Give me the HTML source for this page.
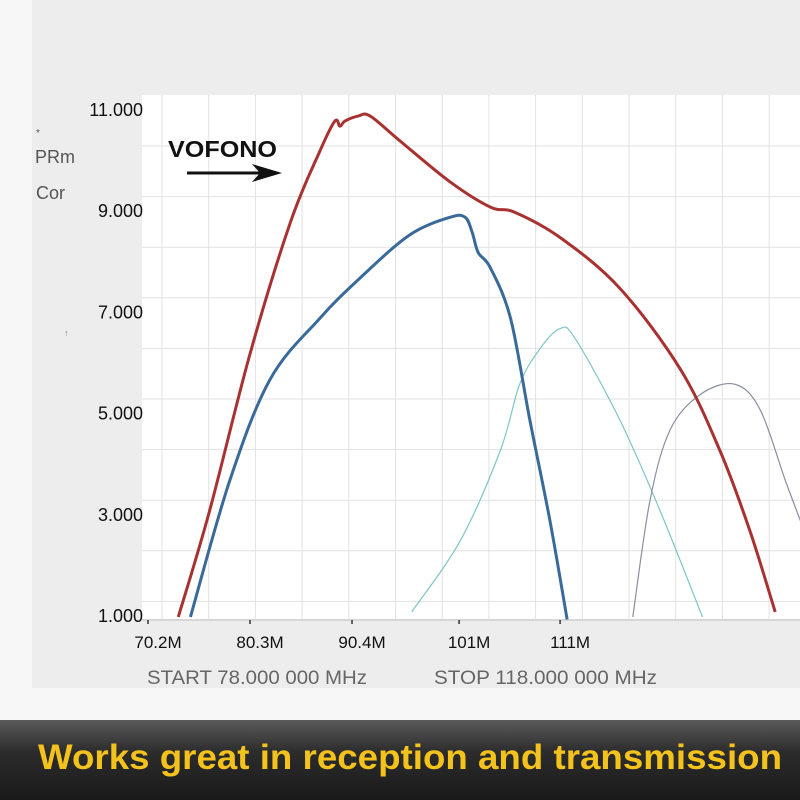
<!DOCTYPE html>
<html><head><meta charset="utf-8"><style>
html,body{margin:0;padding:0;width:800px;height:800px;overflow:hidden;background:#f4f4f4;font-family:"Liberation Sans",sans-serif}
</style></head><body>
<svg width="800" height="800" viewBox="0 0 800 800" xmlns="http://www.w3.org/2000/svg">
<defs>
<linearGradient id="bn" x1="0" y1="0" x2="0" y2="1">
<stop offset="0" stop-color="#5a5a5a"/><stop offset="0.4" stop-color="#2c2c2c"/><stop offset="1" stop-color="#1a1a1a"/>
</linearGradient>
</defs>
<rect x="0" y="0" width="800" height="720" fill="#f7f7f7"/>
<rect x="32" y="0" width="768" height="688" fill="#ededed"/>
<rect x="142" y="95" width="658" height="525" fill="#ffffff"/>
<g id="grid"></g>
<line x1="142" y1="620" x2="800" y2="620" stroke="#d6d6d6" stroke-width="2"/>
<g id="ticks"></g>
<g id="ylabels" font-size="18" fill="#111" text-anchor="end"></g>
<g id="xlabels" font-size="17" fill="#111" text-anchor="middle"></g>
<text x="36" y="136" font-size="10" fill="#555">*</text>
<text x="35" y="163" font-size="18" fill="#555">PRm</text>
<text x="36" y="199" font-size="18" fill="#555">Cor</text>
<text x="64" y="336" font-size="9" fill="#888">↑</text>
<text x="168" y="157" font-size="23" font-weight="bold" fill="#111" textLength="109" lengthAdjust="spacingAndGlyphs">VOFONO</text>
<line x1="187" y1="173" x2="265" y2="173" stroke="#111" stroke-width="3"/>
<polygon points="282,173 252,164 260,173 252,182" fill="#111"/>
<g id="series"></g>
<text x="147" y="684" font-size="19" fill="#666" textLength="220" lengthAdjust="spacingAndGlyphs">START 78.000 000 MHz</text>
<text x="434" y="684" font-size="19" fill="#666" textLength="223" lengthAdjust="spacingAndGlyphs">STOP 118.000 000 MHz</text>
<rect x="0" y="720" width="800" height="80" fill="url(#bn)"/>
<text x="410" y="769" font-size="35" font-weight="bold" fill="#f4c21c" text-anchor="middle" textLength="744" lengthAdjust="spacingAndGlyphs">Works great in reception and transmission</text>
</svg>
<script>
const yTicks=[11,9,7,5,3,1];
const yTickLabels=["11.000","9.000","7.000","5.000","3.000","1.000"];
const xTicks=[70.2,80.3,90.4,101,111];
const xTickLabels=["70.2M","80.3M","90.4M","101M","111M"];
const redF=[73.2,76.3,80.3,84.3,87.2,88.7,89.2,89.7,91.0,92.2,95.2,100.1,104.1,106.5,111.0,116.9,122.9,126.8,129.8,132.3];
const redV=[1.0,3.1,6.2,8.8,10.2,10.8,10.7,10.8,10.9,10.9,10.4,9.6,9.1,9.0,8.5,7.5,5.9,4.3,2.7,1.1];
const blueF=[74.4,78.3,82.3,87.2,91.2,96.1,100.1,101.6,102.3,102.9,104.1,106.1,108.0,110.0,111.7];
const blueV=[1.0,3.7,5.7,6.9,7.7,8.55,8.9,8.9,8.6,8.2,7.9,6.9,4.9,2.9,0.95];
const tealF=[96.3,101.1,105.1,107.0,109.0,111.0,112.5,116.9,120.9,125.1];
const tealV=[1.1,2.5,4.3,5.6,6.3,6.7,6.5,4.9,3.1,1.0];
const grayF=[118.2,119.9,121.9,124.9,128.3,130.8,133.3,134.8];
const grayV=[1.0,3.3,4.7,5.4,5.6,5.1,3.7,2.9];
const X=f=>148+(f-70.2)*10.1;
const Y=v=>617-(v-1)*50.6;
const NS="http://www.w3.org/2000/svg";
function mk(t,a,p){const e=document.createElementNS(NS,t);for(const k in a)e.setAttribute(k,a[k]);p.appendChild(e);return e;}
const grid=document.getElementById('grid');
for(let x=162;x<800;x+=46.7){const l=mk('line',{x1:x,y1:95,x2:x,y2:620,stroke:'#e2e2e2','stroke-width':1},grid);

}
for(let y=146;y<620;y+=50.6){const l=mk('line',{x1:142,y1:y,x2:800,y2:y,stroke:'#e2e2e2','stroke-width':1},grid);

}
const yl=document.getElementById('ylabels');
yTicks.forEach((v,i)=>{const t=mk('text',{x:143,y:Y(v)+5},yl);t.textContent=yTickLabels[i];

});
const xl=document.getElementById('xlabels'),tk=document.getElementById('ticks');
xTicks.forEach((f,i)=>{const t=mk('text',{x:X(f)+10,y:648},xl);t.textContent=xTickLabels[i];


const m=mk('line',{x1:X(f),y1:620,x2:X(f),y2:624,stroke:'#333','stroke-width':1.5},tk);

});
function path(F,V){const p=F.map((f,i)=>[X(f),Y(V[i])]);let d='M'+p[0][0]+','+p[0][1];
for(let i=0;i<p.length-1;i++){const p0=p[Math.max(0,i-1)],p1=p[i],p2=p[i+1],p3=p[Math.min(p.length-1,i+2)];
d+=' C'+(p1[0]+(p2[0]-p0[0])/6)+','+(p1[1]+(p2[1]-p0[1])/6)+' '+(p2[0]-(p3[0]-p1[0])/6)+','+(p2[1]-(p3[1]-p1[1])/6)+' '+p2[0]+','+p2[1];}
return d;}
const sg=document.getElementById('series');
const series=[[tealF,tealV,'#7fc4c8',1.2,'teal-series'],[grayF,grayV,'#8a8fa0',1.2,'gray-series'],[blueF,blueV,'#3a6a9a',3,'blue-series'],[redF,redV,'#a83232',3,'red-series']];
series.forEach(s=>{const e=mk('path',{d:path(s[0],s[1]),fill:'none',stroke:s[2],'stroke-width':s[3],'stroke-linejoin':'round'},sg);

});
</script>
</body></html>
